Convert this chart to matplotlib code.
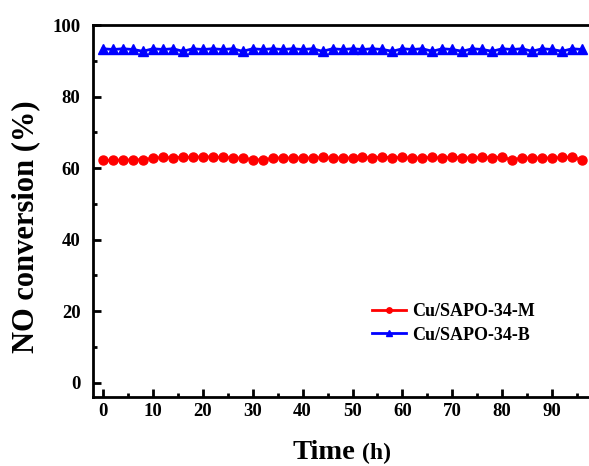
import matplotlib
matplotlib.use('Agg')
import matplotlib.pyplot as plt

# data
time_h = list(range(0, 97, 2))
conv_m = [62.2, 62.2, 62.3, 62.3, 62.4, 62.8, 63.0, 62.9, 63.1, 63.0,
          63.2, 63.1, 63.0, 62.9, 62.8, 62.4, 62.3, 62.8, 62.9, 62.8,
          62.9, 62.8, 63.0, 62.8, 62.9, 62.8, 63.0, 62.9, 63.1, 62.9,
          63.0, 62.8, 62.9, 63.0, 62.8, 63.1, 62.9, 62.9, 63.0, 62.9,
          63.1, 62.3, 62.9, 62.8, 62.9, 62.8, 63.0, 63.1, 62.3]
conv_b = [93.4, 93.2, 93.4, 93.2, 92.7, 93.4, 93.2, 93.4, 92.7, 93.4,
          93.2, 93.4, 93.2, 93.4, 92.7, 93.4, 93.2, 93.4, 93.2, 93.4,
          93.2, 93.4, 92.7, 93.4, 93.2, 93.4, 93.2, 93.4, 93.2, 92.7,
          93.4, 93.2, 93.4, 92.7, 93.4, 93.2, 92.7, 93.4, 93.2, 92.7,
          93.4, 93.2, 93.4, 92.7, 93.4, 93.2, 92.7, 93.4, 93.2]
labels = ['Cu/SAPO-34-M', 'Cu/SAPO-34-B']

plt.rcParams['font.family'] = ['Liberation Serif', 'DejaVu Serif']
plt.rcParams['font.weight'] = 'bold'

fig = plt.figure(figsize=(5.89, 4.66), dpi=100)
ax = fig.add_axes([0.158, 0.148, 0.842, 0.798])

ax.plot(time_h, conv_m, color='#ff0000', linewidth=2, marker='o', markersize=6.5,
        label=labels[0])
ax.plot(time_h, conv_b, color='#0000ff', linewidth=2, marker='^', markersize=7.5,
        label=labels[1])

ax.set_xlim(-2, 97.4)
ax.set_ylim(-4, 100)
ax.set_xticks(range(0, 91, 10))
ax.set_xticks(range(5, 96, 10), minor=True)
ax.set_yticks(range(0, 101, 20))
ax.set_yticks(range(10, 100, 20), minor=True)

for s in ['left', 'bottom', 'top']:
    ax.spines[s].set_linewidth(2)
ax.spines['right'].set_visible(False)

ax.tick_params(which='major', direction='in', length=6, width=2, labelsize=13.5)
ax.tick_params(which='minor', direction='in', length=3, width=2)
ax.tick_params(axis='x', which='major', pad=4)
ax.tick_params(axis='y', which='major', pad=9)
for lab in ax.get_xticklabels() + ax.get_yticklabels():
    lab.set_fontweight('bold')

ax.set_ylabel('NO conversion (%)', fontsize=22, fontweight='bold')
ax.yaxis.set_label_coords(-0.107, 0.457)
fig.text(0.603, 0.015, 'Time', fontsize=20.5, fontweight='bold', ha='right', va='baseline')
fig.text(0.614, 0.015, '(h)', fontsize=17, fontweight='bold', ha='left', va='baseline')

leg = ax.legend(loc='lower left', bbox_to_anchor=(0.53, 0.1), frameon=False,
                prop={'size': 13, 'weight': 'bold'}, handlelength=1.9,
                handletextpad=0.3, labelspacing=0.35, markerscale=0.6)

fig.savefig('out.png', dpi=100)
